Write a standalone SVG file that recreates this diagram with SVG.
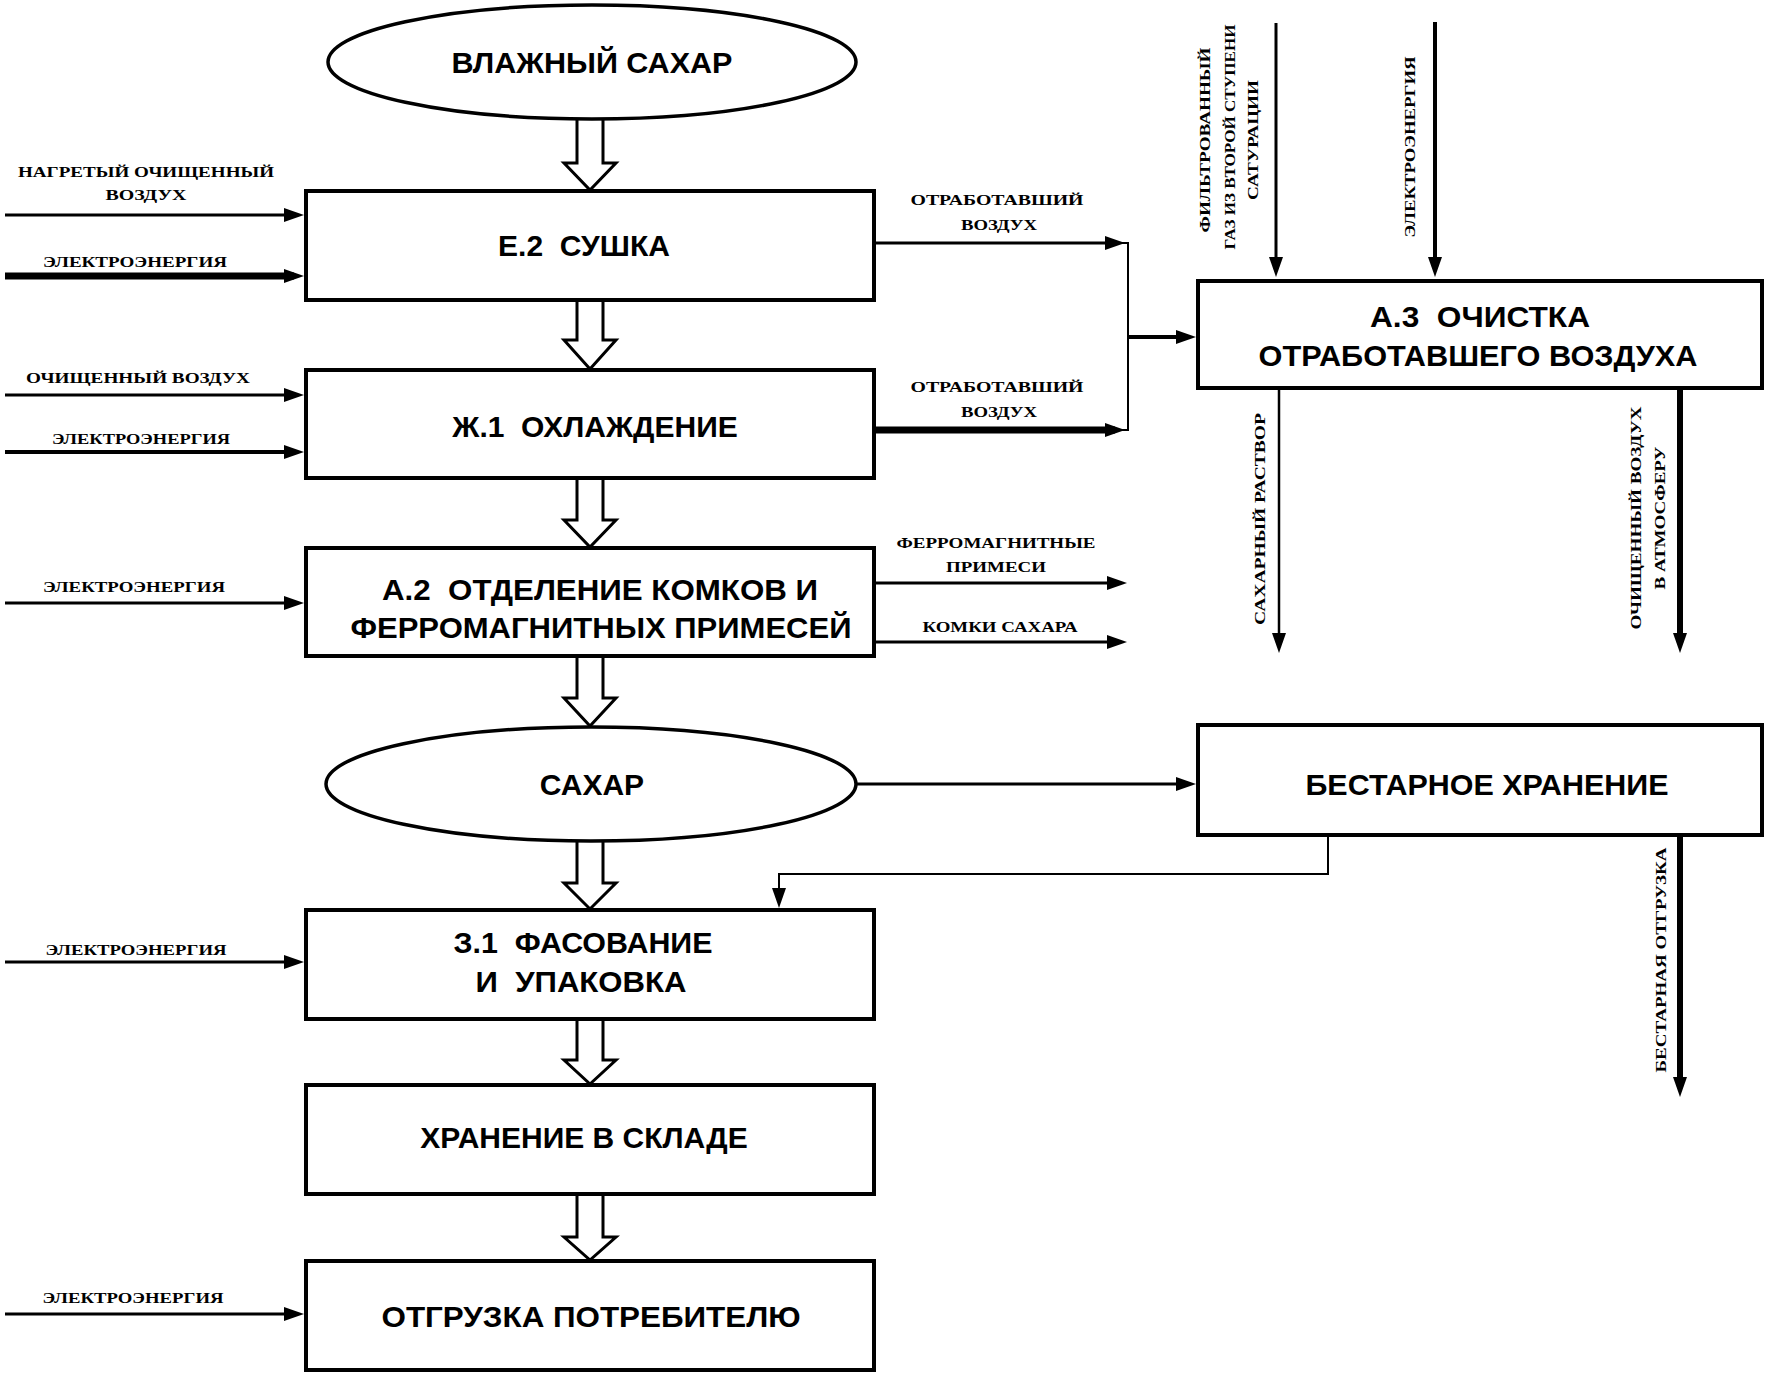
<svg xmlns="http://www.w3.org/2000/svg" width="1767" height="1375" viewBox="0 0 1767 1375">
<style>
.box{fill:#fff;stroke:#000;stroke-width:4}
.ell{fill:#fff;stroke:#000;stroke-width:3.5}
.t{font-family:"Liberation Sans",Arial,sans-serif;font-weight:bold;font-size:30px;fill:#000;text-anchor:middle}
.s{font-family:"Liberation Serif","Times New Roman",serif;font-weight:bold;font-size:15px;fill:#000;text-anchor:middle}
.ln{fill:none;stroke:#000}
.blk{fill:#fff;stroke:#000;stroke-width:3;stroke-linejoin:miter}
</style>
<defs>
<marker id="ah" markerUnits="userSpaceOnUse" markerWidth="22" markerHeight="16" refX="10" refY="8" orient="auto" viewBox="0 0 22 16">
<path d="M0,1 L20,8 L0,15 z" fill="#000"/>
</marker>
</defs>
<rect width="1767" height="1375" fill="#fff"/>

<g id="connectors">
<!-- hollow block arrows -->
<path class="blk" d="M577,120 V163 H564 L590,190 L616,163 H603 V120"/>
<path class="blk" d="M577,301 V340 H564 L590,369 L616,340 H603 V301"/>
<path class="blk" d="M577,479 V520 H564 L590,547 L616,520 H603 V479"/>
<path class="blk" d="M577,657 V698 H564 L590,726 L616,698 H603 V657"/>
<path class="blk" d="M577,841 V883 H564 L590,909 L616,883 H603 V841"/>
<path class="blk" d="M577,1020 V1060 H564 L590,1084 L616,1060 H603 V1020"/>
<path class="blk" d="M577,1195 V1237 H564 L590,1260 L616,1237 H603 V1195"/>

<!-- left inputs -->
<line class="ln" x1="5" y1="215" x2="294" y2="215" stroke-width="3" marker-end="url(#ah)"/>
<line class="ln" x1="5" y1="276" x2="294" y2="276" stroke-width="7" marker-end="url(#ah)"/>
<line class="ln" x1="5" y1="395" x2="294" y2="395" stroke-width="3" marker-end="url(#ah)"/>
<line class="ln" x1="5" y1="452" x2="294" y2="452" stroke-width="4" marker-end="url(#ah)"/>
<line class="ln" x1="5" y1="603" x2="294" y2="603" stroke-width="3" marker-end="url(#ah)"/>
<line class="ln" x1="5" y1="962" x2="294" y2="962" stroke-width="3" marker-end="url(#ah)"/>
<line class="ln" x1="5" y1="1314" x2="294" y2="1314" stroke-width="3" marker-end="url(#ah)"/>

<!-- right outputs -->
<line class="ln" x1="874" y1="243" x2="1115" y2="243" stroke-width="3" marker-end="url(#ah)"/>
<line class="ln" x1="874" y1="430" x2="1115" y2="430" stroke-width="7" marker-end="url(#ah)"/>
<polyline class="ln" points="1118,243 1128,243 1128,430 1118,430" stroke-width="2"/>
<line class="ln" x1="1128" y1="337" x2="1186" y2="337" stroke-width="4" marker-end="url(#ah)"/>
<line class="ln" x1="874" y1="583" x2="1117" y2="583" stroke-width="3" marker-end="url(#ah)"/>
<line class="ln" x1="874" y1="642" x2="1117" y2="642" stroke-width="3" marker-end="url(#ah)"/>

<!-- inputs to A.3 -->
<line class="ln" x1="1276" y1="23" x2="1276" y2="267" stroke-width="3" marker-end="url(#ah)"/>
<line class="ln" x1="1435" y1="22" x2="1435" y2="267" stroke-width="4" marker-end="url(#ah)"/>
<!-- outputs of A.3 -->
<line class="ln" x1="1279" y1="388" x2="1279" y2="643" stroke-width="2.5" marker-end="url(#ah)"/>
<line class="ln" x1="1680" y1="388" x2="1680" y2="643" stroke-width="6" marker-end="url(#ah)"/>

<!-- sugar to bulk storage -->
<line class="ln" x1="856" y1="784" x2="1186" y2="784" stroke-width="3" marker-end="url(#ah)"/>
<polyline class="ln" points="1328,835 1328,874 779,874 779,898" stroke-width="2" marker-end="url(#ah)"/>
<line class="ln" x1="1680" y1="835" x2="1680" y2="1087" stroke-width="6" marker-end="url(#ah)"/>
</g>

<g id="n-wet-sugar">
<ellipse class="ell" cx="592" cy="62" rx="264" ry="57"/>
<text class="t" x="592" y="73" textLength="281" lengthAdjust="spacingAndGlyphs">ВЛАЖНЫЙ САХАР</text>
</g>

<g id="n-e2">
<rect class="box" x="306" y="191" width="568" height="109"/>
<text class="t" x="584" y="256" xml:space="preserve">Е.2  СУШКА</text>
</g>

<g id="n-zh1">
<rect class="box" x="306" y="370" width="568" height="108"/>
<text class="t" x="595" y="437" xml:space="preserve">Ж.1  ОХЛАЖДЕНИЕ</text>
</g>

<g id="n-a2">
<rect class="box" x="306" y="548" width="568" height="108"/>
<text class="t" x="600" y="600" xml:space="preserve" textLength="436" lengthAdjust="spacingAndGlyphs">А.2  ОТДЕЛЕНИЕ КОМКОВ И</text>
<text class="t" x="601" y="638" textLength="501" lengthAdjust="spacingAndGlyphs">ФЕРРОМАГНИТНЫХ ПРИМЕСЕЙ</text>
</g>

<g id="n-sugar">
<ellipse class="ell" cx="591" cy="784" rx="265" ry="57"/>
<text class="t" x="592" y="795">САХАР</text>
</g>

<g id="n-z1">
<rect class="box" x="306" y="910" width="568" height="109"/>
<text class="t" x="583" y="953" xml:space="preserve" textLength="259" lengthAdjust="spacingAndGlyphs">З.1  ФАСОВАНИЕ</text>
<text class="t" x="581" y="992" xml:space="preserve" textLength="211" lengthAdjust="spacingAndGlyphs">И  УПАКОВКА</text>
</g>

<g id="n-store">
<rect class="box" x="306" y="1085" width="568" height="109"/>
<text class="t" x="584" y="1148">ХРАНЕНИЕ В СКЛАДЕ</text>
</g>

<g id="n-ship">
<rect class="box" x="306" y="1261" width="568" height="109"/>
<text class="t" x="591" y="1327" textLength="419" lengthAdjust="spacingAndGlyphs">ОТГРУЗКА ПОТРЕБИТЕЛЮ</text>
</g>

<g id="n-a3">
<rect class="box" x="1198" y="281" width="564" height="107"/>
<text class="t" x="1480" y="327" xml:space="preserve" textLength="220" lengthAdjust="spacingAndGlyphs">А.3  ОЧИСТКА</text>
<text class="t" x="1478" y="366" textLength="439" lengthAdjust="spacingAndGlyphs">ОТРАБОТАВШЕГО ВОЗДУХА</text>
</g>

<g id="n-bulk">
<rect class="box" x="1198" y="725" width="564" height="110"/>
<text class="t" x="1487" y="795" textLength="363" lengthAdjust="spacingAndGlyphs">БЕСТАРНОЕ ХРАНЕНИЕ</text>
</g>

<g id="labels">
<text class="s" x="146" y="177" textLength="256" lengthAdjust="spacingAndGlyphs">НАГРЕТЫЙ ОЧИЩЕННЫЙ</text>
<text class="s" x="146" y="200" textLength="81" lengthAdjust="spacingAndGlyphs">ВОЗДУХ</text>
<text class="s" x="135" y="267" textLength="184" lengthAdjust="spacingAndGlyphs">ЭЛЕКТРОЭНЕРГИЯ</text>
<text class="s" x="138" y="383" textLength="224" lengthAdjust="spacingAndGlyphs">ОЧИЩЕННЫЙ ВОЗДУХ</text>
<text class="s" x="141" y="444" textLength="178" lengthAdjust="spacingAndGlyphs">ЭЛЕКТРОЭНЕРГИЯ</text>
<text class="s" x="134" y="592" textLength="182" lengthAdjust="spacingAndGlyphs">ЭЛЕКТРОЭНЕРГИЯ</text>
<text class="s" x="136" y="955" textLength="181" lengthAdjust="spacingAndGlyphs">ЭЛЕКТРОЭНЕРГИЯ</text>
<text class="s" x="133" y="1303" textLength="181" lengthAdjust="spacingAndGlyphs">ЭЛЕКТРОЭНЕРГИЯ</text>

<text class="s" x="997" y="205" textLength="173" lengthAdjust="spacingAndGlyphs">ОТРАБОТАВШИЙ</text>
<text class="s" x="999" y="230" textLength="76" lengthAdjust="spacingAndGlyphs">ВОЗДУХ</text>
<text class="s" x="997" y="392" textLength="173" lengthAdjust="spacingAndGlyphs">ОТРАБОТАВШИЙ</text>
<text class="s" x="999" y="417" textLength="76" lengthAdjust="spacingAndGlyphs">ВОЗДУХ</text>
<text class="s" x="996" y="548" textLength="199" lengthAdjust="spacingAndGlyphs">ФЕРРОМАГНИТНЫЕ</text>
<text class="s" x="996" y="572" textLength="100" lengthAdjust="spacingAndGlyphs">ПРИМЕСИ</text>
<text class="s" x="1000" y="632" textLength="155" lengthAdjust="spacingAndGlyphs">КОМКИ САХАРА</text>

<text class="s" transform="translate(1210,140) rotate(-90)" textLength="185" lengthAdjust="spacingAndGlyphs">ФИЛЬТРОВАННЫЙ</text>
<text class="s" transform="translate(1235,137) rotate(-90)" textLength="225" lengthAdjust="spacingAndGlyphs">ГАЗ ИЗ ВТОРОЙ СТУПЕНИ</text>
<text class="s" transform="translate(1258,140) rotate(-90)" textLength="120" lengthAdjust="spacingAndGlyphs">САТУРАЦИИ</text>
<text class="s" transform="translate(1415,147) rotate(-90)" textLength="181" lengthAdjust="spacingAndGlyphs">ЭЛЕКТРОЭНЕРГИЯ</text>
<text class="s" transform="translate(1265,519) rotate(-90)" textLength="212" lengthAdjust="spacingAndGlyphs">САХАРНЫЙ РАСТВОР</text>
<text class="s" transform="translate(1641,518) rotate(-90)" textLength="223" lengthAdjust="spacingAndGlyphs">ОЧИЩЕННЫЙ ВОЗДУХ</text>
<text class="s" transform="translate(1665,518) rotate(-90)" textLength="143" lengthAdjust="spacingAndGlyphs">В АТМОСФЕРУ</text>
<text class="s" transform="translate(1666,960) rotate(-90)" textLength="225" lengthAdjust="spacingAndGlyphs">БЕСТАРНАЯ ОТГРУЗКА</text>
</g>
</svg>
